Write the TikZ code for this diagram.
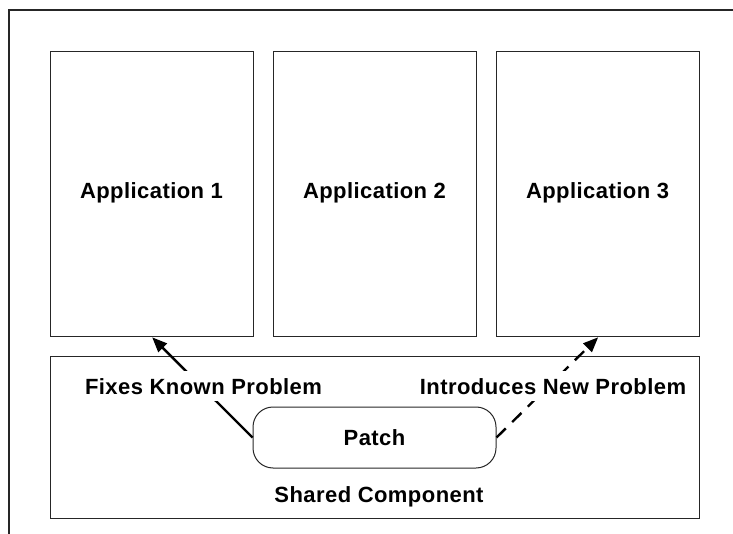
\documentclass[tikz,border=0pt]{standalone}
\usepackage{fontspec}
\setmainfont{Liberation Sans}[LetterSpace=2]
\usetikzlibrary{arrows.meta}
\begin{document}
\begin{tikzpicture}[x=1pt,y=-1pt,
  box/.style={draw=black!85,line width=1.3pt,inner sep=0pt,anchor=north west},
  lbl/.style={font=\fontsize{22}{26}\selectfont\bfseries,inner sep=0pt,anchor=base},
  cutlbl/.style={lbl,fill=white,inner xsep=4pt,inner ysep=7pt},
  conn/.style={line width=2.4pt,-{Triangle[length=15pt,width=12pt]}}]
\useasboundingbox (0,0) rectangle (733,534);
\draw[line width=1.3pt,black!85] (9,534) -- (9,10) -- (733,10);
\node[box,minimum width=203pt,minimum height=285pt] (app1) at (50,51) {};
\node[box,minimum width=203pt,minimum height=285pt] (app2) at (273,51) {};
\node[box,minimum width=203pt,minimum height=285pt] (app3) at (496,51) {};
\node[box,minimum width=649pt,minimum height=162pt] (shared) at (50,356) {};
\node[box,anchor=center,rounded corners=20pt,line width=1pt,minimum width=243pt,minimum height=61pt] (patch) at (374.5,437.5) {};
\node[lbl] (t1) at (151.5,199) {Application 1};
\node[lbl] (t2) at (374.5,199) {Application 2};
\node[lbl] (t3) at (597.5,199) {Application 3};
\node[lbl] (tp) at (374.5,445) {Patch};
\node[lbl] (ts) at (379,502) {Shared Component};
\draw[conn] (patch.west) -- (app1.south);
\draw[conn,dash pattern=on 13pt off 9pt] (patch.east) -- (app3.south);
\node[cutlbl] (fix) at (203.5,394) {Fixes Known Problem};
\node[cutlbl] (intro) at (553,394) {Introduces New Problem};
\end{tikzpicture}
\end{document}
